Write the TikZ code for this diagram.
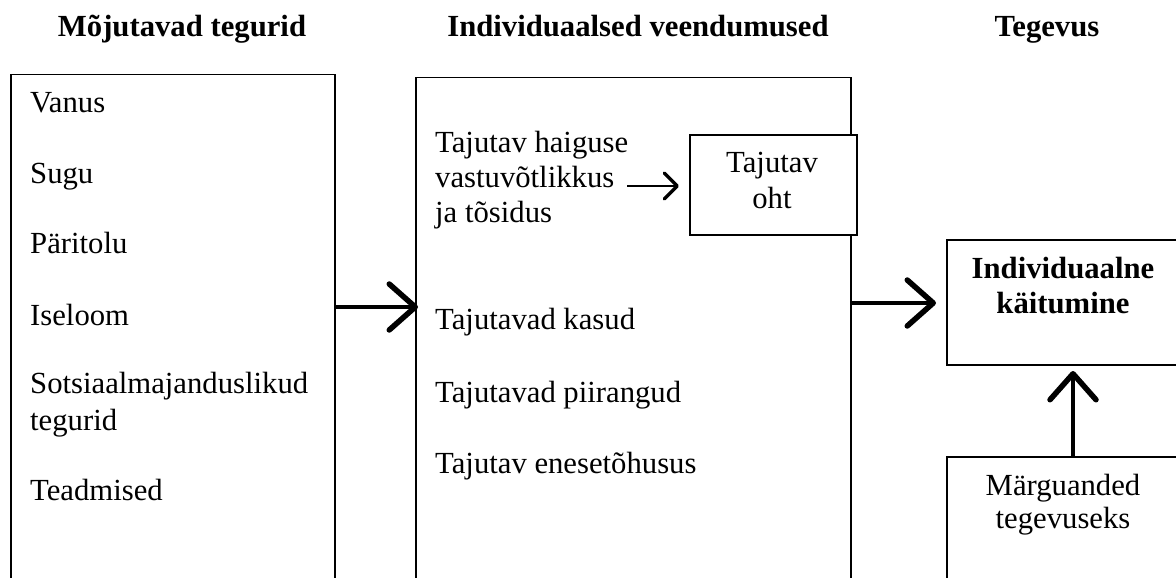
\documentclass[tikz,border=0pt]{standalone}
\usepackage{fontspec}
\setmainfont{Liberation Serif}
\usetikzlibrary{arrows.meta}
\tikzset{
  box/.style={draw=black, line width=1.5pt, inner sep=0pt, anchor=north west},
  lbl/.style={inner sep=0pt, anchor=base west, font=\fontsize{30.7}{35}\selectfont},
  clbl/.style={inner sep=0pt, anchor=base, font=\fontsize{30.7}{35}\selectfont},
  ttl/.style={inner sep=0pt, anchor=base, font=\fontsize{30.7}{35}\selectfont\bfseries},
  bigarr/.style={line width=3.6pt, -{Straight Barb[length=26pt,width=46pt,line width=5.5pt,round]}},
  smallarr/.style={line width=2.4pt, -{Straight Barb[length=13pt,width=26pt,line width=3.5pt,round]}},
}
\begin{document}
\begin{tikzpicture}[x=1pt,y=-1pt]
\useasboundingbox (0,0) rectangle (1176,578);
\clip (0,0) rectangle (1176,578);
\fill[white] (0,0) rectangle (1176,578);
% titles
\node[ttl] (t1) at (182,37) {Mõjutavad tegurid};
\node[ttl] (t2) at (638,37) {Individuaalsed veendumused};
\node[ttl] (t3) at (1047,37) {Tegevus};
% boxes
\node[box, minimum width=324pt, minimum height=560pt] (b1) at (10,74) {};
\node[box, minimum width=435pt, minimum height=560pt] (b2) at (415,77) {};
\node[box, fill=white, minimum width=167pt, minimum height=100pt] (oht) at (689,134) {};
\node[box, minimum width=260pt, minimum height=125pt] (ind) at (946,239) {};
\node[box, minimum width=260pt, minimum height=200pt] (mg) at (946,456) {};
% box 1 texts
\node[lbl] (v1) at (30,112) {Vanus};
\node[lbl] (v2) at (30,183) {Sugu};
\node[lbl] (v3) at (30,253) {Päritolu};
\node[lbl] (v4) at (30,325) {Iseloom};
\node[lbl] (v5) at (30,393) {Sotsiaalmajanduslikud};
\node[lbl] (v5b) at (30,430) {tegurid};
\node[lbl] (v6) at (30,500) {Teadmised};
% box 2 texts
\node[lbl] (h1) at (435,152) {Tajutav haiguse};
\node[lbl] (h2) at (435,187) {vastuvõtlikkus};
\node[lbl] (h3) at (435,222) {ja tõsidus};
\node[lbl] (k1) at (435,329) {Tajutavad kasud};
\node[lbl] (k2) at (435,402) {Tajutavad piirangud};
\node[lbl] (k3) at (435,473) {Tajutav enesetõhusus};
% oht text
\node[clbl] (o1) at (772,172) {Tajutav};
\node[clbl] (o2) at (772,208) {oht};
% individuaalne
\node[clbl, font=\fontsize{30.7}{35}\selectfont\bfseries] (i1) at (1063,278) {Individuaalne};
\node[clbl, font=\fontsize{30.7}{35}\selectfont\bfseries] (i2) at (1063,313) {käitumine};
% margused
\node[clbl] (m1) at (1063,495) {Märguanded};
\node[clbl] (m2) at (1063,528) {tegevuseks};
% arrows
\coordinate (a1s) at (b1.east |- 0,307);
\coordinate (a1e) at (418,307);
\draw[bigarr] (a1s) -- (a1e);
\coordinate (a2s) at (b2.east |- 0,303);
\coordinate (a2e) at (936,303);
\draw[bigarr] (a2s) -- (a2e);
\coordinate (a3s) at (mg.north -| 1073,0);
\coordinate (a3e) at (1073,371);
\draw[bigarr] (a3s) -- (a3e);
\coordinate (a4s) at (627,186);
\coordinate (a4e) at (679,186);
\draw[smallarr] (a4s) -- (a4e);
\end{tikzpicture}
\end{document}
